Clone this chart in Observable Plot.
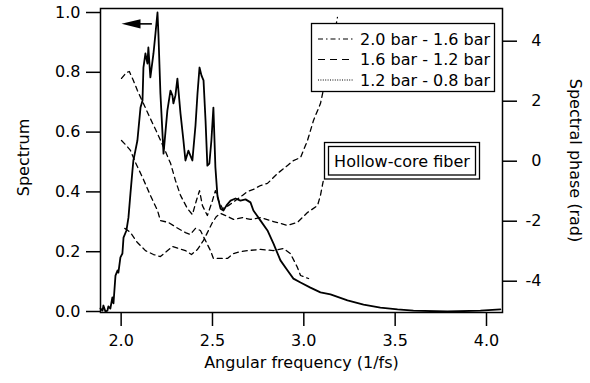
<!DOCTYPE html>
<html><head><meta charset="utf-8">
<script src="https://cdn.jsdelivr.net/npm/d3@7"></script>
<script src="https://cdn.jsdelivr.net/npm/@observablehq/plot@0.6"></script>
<style>
html,body{margin:0;padding:0;background:#fff;}
svg{font-family:"DejaVu Sans",sans-serif;}
</style></head><body><div id="chart"></div>
<script>
// Spectrum (left axis)
const specFreq = [1.887,1.898,1.903,1.914,1.925,1.930,1.941,1.952,1.958,1.969,
  1.980,1.985,1.996,2.007,2.013,2.029,2.040,2.051,2.062,2.067,
  2.078,2.089,2.106,2.117,2.122,2.133,2.144,2.149,2.160,2.177,
  2.188,2.199,2.204,2.215,2.232,2.253,2.270,2.281,2.286,2.297,
  2.308,2.325,2.341,2.352,2.368,2.390,2.407,2.418,2.429,2.440,
  2.451,2.462,2.472,2.483,2.494,2.505,2.516,2.527,2.544,2.560,
  2.577,2.599,2.626,2.653,2.681,2.708,2.724,2.763,2.801,2.834,
  2.872,2.911,2.943,2.982,3.036,3.091,3.146,3.239,3.327,3.419,
  3.513,3.600,3.786,3.967,4.076];
const specVal = [0.010,0.003,0.020,0.000,0.003,0.017,0.010,0.047,0.027,0.120,
  0.137,0.130,0.181,0.194,0.247,0.271,0.314,0.395,0.472,0.505,
  0.538,0.572,0.682,0.706,0.816,0.863,0.829,0.883,0.783,0.863,
  0.930,1.000,0.930,0.729,0.528,0.672,0.739,0.722,0.696,0.722,
  0.779,0.662,0.572,0.505,0.538,0.505,0.622,0.729,0.816,0.789,
  0.773,0.639,0.488,0.495,0.572,0.682,0.482,0.388,0.344,0.338,
  0.355,0.371,0.378,0.371,0.375,0.365,0.338,0.304,0.271,0.227,
  0.171,0.137,0.110,0.097,0.080,0.064,0.057,0.037,0.023,0.013,
  0.007,0.003,0.000,0.003,0.007];

// Spectral phase curves (right axis, rad)
const phaseAFreq = [2.002,2.029,2.045,2.067,2.089,2.122,2.160,2.199,2.233,2.271,2.297,2.325,2.363,2.390,2.412,2.429,2.445,2.472,2.500,2.516,2.533,2.555,2.587,2.626,2.664,2.692,2.724,2.763,2.801,2.856,2.911,2.943,2.982,3.020,3.053,3.091,3.118,3.146,3.184];
const phaseAVal = [2.76,2.96,2.99,2.69,2.36,1.92,1.42,0.92,0.46,-0.08,-0.64,-1.14,-1.58,-1.78,-1.31,-0.98,-1.48,-1.81,-1.31,-0.98,-1.31,-1.58,-1.48,-1.31,-1.14,-1.01,-0.94,-0.81,-0.74,-0.41,-0.14,0.02,0.12,0.69,1.36,1.92,2.69,3.52,4.79];
const phaseBFreq = [2.002,2.029,2.051,2.078,2.117,2.160,2.199,2.215,2.259,2.303,2.352,2.379,2.407,2.434,2.461,2.489,2.505,2.544,2.582,2.615,2.653,2.692,2.763,2.834,2.889,2.927,2.965,2.982,3.026];
const phaseBVal = [0.69,0.52,0.36,-0.04,-0.54,-1.14,-1.64,-1.98,-2.04,-2.21,-2.38,-2.44,-2.24,-2.31,-2.64,-2.98,-3.24,-3.24,-3.24,-3.08,-3.01,-2.98,-2.94,-2.98,-2.91,-3.08,-3.54,-3.81,-3.91];
const phaseCFreq = [2.020,2.035,2.051,2.089,2.133,2.177,2.215,2.248,2.281,2.314,2.352,2.385,2.418,2.451,2.478,2.500,2.522,2.544,2.582,2.615,2.664,2.708,2.763,2.834,2.911,2.965,3.020,3.075,3.091,3.107];
const phaseCVal = [-2.24,-2.30,-2.38,-2.71,-2.98,-3.11,-3.18,-3.01,-2.84,-2.91,-2.98,-3.11,-2.94,-2.64,-2.31,-2.04,-1.84,-1.74,-1.84,-1.94,-1.88,-1.94,-1.88,-2.01,-2.14,-2.04,-1.71,-1.48,-1.14,-0.64];

const legendLabels = ["2.0 bar - 1.6 bar", "1.6 bar - 1.2 bar", "1.2 bar - 0.8 bar"];
const boxLabel = "Hollow-core fiber";
const xLabel = "Angular frequency (1/fs)";
const yLabel = "Spectrum";
const y2Label = "Spectral phase (rad)";
const xTicks = [2.0, 2.5, 3.0, 3.5, 4.0];
const yTicks = [0, 0.2, 0.4, 0.6, 0.8, 1.0];
const phaseTicks = [-4, -2, 0, 2, 4];
// arrow annotation (points to the left axis), in data units
const arrowShaftFreq = [2.094, 2.171];
const arrowHeadFreq = [2.054];
const arrowLevel = [0.962];

const xDomain = [1.887, 4.0876];
const yDomain = [-0.0033, 1.0134];
const phaseDomain = [-5.043, 5.09];
const toSpec = d3.scaleLinear().domain(phaseDomain).range(yDomain);

const mk = (f, v, conv) => f.map((x, i) => ({x, y: conv ? conv(v[i]) : v[i]}));
const spec = mk(specFreq, specVal);
const pA = mk(phaseAFreq, phaseAVal, toSpec);
const pB = mk(phaseBFreq, phaseBVal, toSpec);
const pC = mk(phaseCFreq, phaseCVal, toSpec);

const leftTri = {draw(ctx) { ctx.moveTo(-9.5, 0); ctx.lineTo(9.5, -4.6); ctx.lineTo(9.5, 4.6); ctx.closePath(); }};

const dashStyle = {x: "x", y: "y", stroke: "#000", strokeWidth: 1.3, strokeDasharray: "5,4"};

const plot = Plot.plot({
  width: 590, height: 383,
  marginLeft: 100, marginRight: 88, marginTop: 8, marginBottom: 71,
  style: {fontFamily: "DejaVu Sans, sans-serif", fontSize: "16px", color: "#000", background: "#fff", overflow: "visible"},
  x: {domain: xDomain},
  y: {domain: yDomain},
  marks: [
    Plot.line(pA, dashStyle),
    Plot.line(pB, dashStyle),
    Plot.line(pC, dashStyle),
    Plot.line(spec, {x: "x", y: "y", stroke: "#000", strokeWidth: 1.8, strokeLinejoin: "round"}),
    Plot.ruleY(arrowLevel, {x1: () => arrowShaftFreq[0], x2: () => arrowShaftFreq[1], y: d => d, stroke: "#000", strokeWidth: 1.6}),
    Plot.dot(arrowHeadFreq, {x: d => d, y: () => arrowLevel[0], symbol: leftTri, fill: "#000", stroke: "none", r: 5}),
    Plot.frame({stroke: "#000", strokeWidth: 1.5}),
    Plot.axisX({ticks: xTicks, tickFormat: d3.format(".1f"), tickSize: 14, tickPadding: 8, label: null, strokeWidth: 1.5}),
    Plot.axisY({anchor: "left", ticks: yTicks, tickFormat: d3.format(".1f"), tickSize: 14, tickPadding: 6, label: null, strokeWidth: 1.5}),
    Plot.axisY(phaseTicks.map(p => toSpec(p)), {anchor: "right", tickSize: 14, tickPadding: 25, textAnchor: "end",
      tickFormat: d => String(Math.round(toSpec.invert(d))), label: null, strokeWidth: 1.5}),
    Plot.text([yLabel], {frameAnchor: "left", text: d => d, rotate: -90, dx: -77, dy: -3, textAnchor: "middle", lineAnchor: "middle", fill: "#000"}),
    Plot.text([y2Label], {frameAnchor: "right", text: d => d, rotate: 90, dx: 73, textAnchor: "middle", lineAnchor: "middle", fill: "#000"}),
    Plot.text([xLabel], {frameAnchor: "bottom", text: d => d, dy: 50, textAnchor: "middle", lineAnchor: "middle", fill: "#000"})
  ]
});
document.getElementById("chart").appendChild(plot);

// Legend box
const svg = d3.select(plot);
const lg = svg.append("g");
lg.append("rect").attr("x", 311.5).attr("y", 23.5).attr("width", 183).attr("height", 68)
  .attr("fill", "#fff").attr("stroke", "#000").attr("stroke-width", 1.3);
const dashes = ["5,3,1.5,3", "7,5", "1,1.4"];
legendLabels.forEach((t, i) => {
  const y = 39 + i * 20.5;
  lg.append("line").attr("x1", 318).attr("x2", 353).attr("y1", y).attr("y2", y)
    .attr("stroke", "#000").attr("stroke-width", 1.2).attr("stroke-dasharray", dashes[i]);
  lg.append("text").attr("x", 360).attr("y", y + 5.5).attr("text-anchor", "start")
    .attr("font-size", 16).attr("fill", "#000").text(t);
});
// Hollow-core fiber box (double border)
const hb = svg.append("g");
hb.append("rect").attr("x", 324.5).attr("y", 142.5).attr("width", 155).attr("height", 36.5)
  .attr("fill", "#fff").attr("stroke", "#000").attr("stroke-width", 1.3);
hb.append("rect").attr("x", 328.5).attr("y", 146.5).attr("width", 147).attr("height", 28.5)
  .attr("fill", "none").attr("stroke", "#000").attr("stroke-width", 1.3);
hb.append("text").attr("x", 402).attr("y", 167).attr("text-anchor", "middle").attr("font-size", 16).attr("fill", "#000").text(boxLabel);
</script></body></html>
